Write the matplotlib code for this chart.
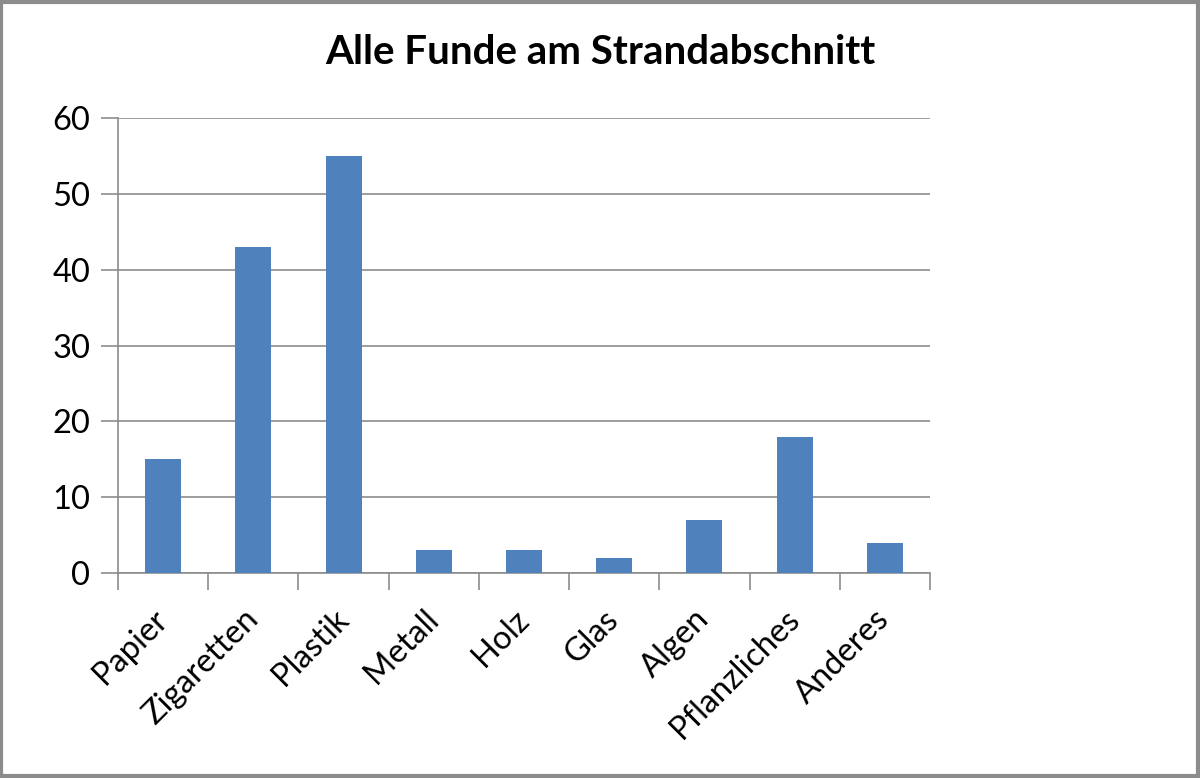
import matplotlib.pyplot as plt
import numpy as np
from matplotlib.patches import Rectangle

categories = ["Papier", "Zigaretten", "Plastik", "Metall", "Holz", "Glas",
              "Algen", "Pflanzliches", "Anderes"]
counts = [15, 43, 55, 3, 3, 2, 7, 18, 4]
y_ticks = [0, 10, 20, 30, 40, 50, 60]

plt.rcParams['font.family'] = ['Lato', 'DejaVu Sans']

fig = plt.figure(figsize=(12, 7.78), dpi=100)
ax = fig.add_axes([118 / 1200, 1 - 573 / 778, (930 - 118) / 1200, (573 - 118) / 778])

x = np.arange(len(categories))
ax.bar(x, counts, width=0.4, color='#4F81BD', zorder=3)

ax.set_xlim(-0.5, len(categories) - 0.5)
ax.set_ylim(0, 60)
ax.set_yticks(y_ticks)
ax.set_yticklabels([str(v) for v in y_ticks], fontsize=23.5)
ax.yaxis.grid(True, color='#8c8c8c', linewidth=1.2, zorder=0)

ax.set_xticks(x)
ax.set_xticklabels(categories, fontsize=23.5, rotation=45, ha='right',
                   va='center', rotation_mode='anchor')
ax.set_xticks(np.arange(len(categories) + 1) - 0.5, minor=True)
ax.tick_params(axis='x', which='major', length=0, pad=30)
ax.tick_params(axis='x', which='minor', length=12, color='#8c8c8c', width=1.2)
ax.tick_params(axis='y', length=12, color='#8c8c8c', width=1.2, pad=8)

for s in ['top', 'right']:
    ax.spines[s].set_visible(False)
for s in ['left', 'bottom']:
    ax.spines[s].set_color('#8c8c8c')
    ax.spines[s].set_linewidth(1.2)

fig.text(600 / 1200, 1 - 52 / 778, "Alle Funde am Strandabschnitt",
         fontsize=29, fontweight='bold', ha='center', va='center')

fig.patches.append(Rectangle((0.001, 0.002), 0.997, 0.996, transform=fig.transFigure,
                             fill=False, edgecolor='#8c8c8c', linewidth=3))

fig.savefig('out.png', dpi=100)
